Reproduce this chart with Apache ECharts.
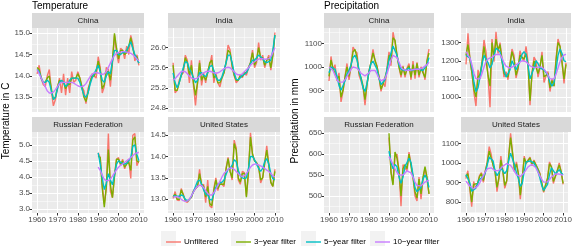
<!DOCTYPE html>
<html><head><meta charset="utf-8">
<script src="https://cdn.jsdelivr.net/npm/echarts@6/dist/echarts.min.js"></script>
<style>html,body{margin:0;padding:0;background:#fff}#c{width:575px;height:248px}</style>
</head><body><div id="c"></div>
<script>
// ---------- categories ----------
const yearsAll = [1960,1961,1962,1963,1964,1965,1966,1967,1968,1969,1970,1971,1972,1973,1974,1975,1976,1977,1978,1979,1980,1981,1982,1983,1984,1985,1986,1987,1988,1989,1990,1991,1992,1993,1994,1995,1996,1997,1998,1999,2000,2001,2002,2003,2004,2005,2006,2007,2008,2009,2010];
const yearsRus = [1990,1991,1992,1993,1994,1995,1996,1997,1998,1999,2000,2001,2002,2003,2004,2005,2006,2007,2008,2009,2010];
const seriesNames = ['Unfiltered','3\u2212year filter','5\u2212year filter','10\u2212year filter'];
const countries = ['China','India','Russian Federation','United States'];

// ---------- tick labels ----------
const xTicks = [1960,1970,1980,1990,2000,2010];
const xMinor = [1965,1975,1985,1995,2005];
const tempChinaTicks = [13.5,14.0,14.5,15.0], tempChinaMinor = [13.25,13.75,14.25,14.75];
const tempIndiaTicks = [24.8,25.2,25.6,26.0], tempIndiaMinor = [25.0,25.4,25.8,26.2];
const tempRusTicks = [3.0,3.5,4.0,4.5,5.0], tempRusMinor = [3.25,3.75,4.25,4.75,5.25];
const tempUSTicks = [13.0,13.5,14.0,14.5], tempUSMinor = [12.75,13.25,13.75,14.25];
const precChinaTicks = [900,1000,1100], precChinaMinor = [850,950,1050,1150];
const precIndiaTicks = [1000,1100,1200,1300], precIndiaMinor = [950,1050,1150,1250,1350];
const precRusTicks = [500,550,600,650], precRusMinor = [475,525,575,625];
const precUSTicks = [800,900,1000,1100], precUSMinor = [750,850,950,1050,1150];

// ---------- Temperature: China ----------
const tempChinaUnf = [14.05,14.25,13.95,13.8,13.75,14.0,14.15,13.65,13.3,13.45,
 13.7,13.95,13.6,14.05,13.55,13.95,13.6,14.1,13.85,13.9,
 14.1,13.95,13.75,13.65,13.35,13.7,13.85,14.05,14.0,13.95,
 14.45,14.2,13.6,13.75,14.2,14.15,13.75,14.3,14.95,14.55,
 14.3,14.65,14.6,14.4,14.7,14.5,14.95,14.75,14.35,14.5,14.25];
const tempChina3 = [14.2,14.15,13.95,13.85,13.85,13.95,14.0,13.7,13.45,13.5,
 13.75,13.9,13.85,13.85,13.7,13.8,13.8,13.95,13.95,13.95,
 14.05,13.95,13.75,13.5,13.4,13.6,13.85,14.0,14.0,14.1,
 14.35,14.15,13.7,13.8,14.1,14.1,13.9,14.35,15.0,14.65,
 14.4,14.6,14.6,14.5,14.55,14.7,14.9,14.65,14.45,14.45,14.3];
const tempChina5 = [14.15,14.1,13.95,13.85,13.85,13.9,13.85,13.65,13.45,13.5,
 13.7,13.85,13.9,13.85,13.75,13.8,13.9,13.95,13.95,13.95,
 13.95,13.85,13.7,13.55,13.5,13.6,13.8,13.95,14.05,14.15,
 14.25,14.1,13.9,13.85,14.0,14.1,14.05,14.35,14.6,14.6,
 14.5,14.5,14.55,14.55,14.6,14.7,14.8,14.65,14.5,14.4,14.3];
const tempChina10 = [14.15,14.05,13.95,13.85,13.75,13.65,13.6,13.6,13.62,13.68,
 13.75,13.82,13.85,13.85,13.85,13.85,13.85,13.85,13.83,13.8,
 13.77,13.75,13.75,13.77,13.82,13.9,13.98,14.04,14.07,14.08,
 14.07,14.05,14.04,14.05,14.1,14.2,14.3,14.4,14.48,14.53,
 14.55,14.56,14.57,14.57,14.56,14.55,14.53,14.5,14.45,14.4,14.35];

// ---------- Temperature: India ----------
const tempIndiaUnf = [25.7,25.1,25.15,25.35,25.45,25.5,25.85,25.75,25.3,25.75,
 25.25,24.85,25.3,25.75,25.25,25.5,25.3,25.55,25.65,25.85,
 25.3,25.5,25.3,25.22,25.4,25.5,25.7,26.05,25.95,25.6,
 25.45,25.3,25.35,25.45,25.4,25.5,25.45,25.6,25.7,25.95,
 25.6,25.7,26.1,25.75,25.85,25.6,25.75,25.85,25.55,25.85,26.3];
const tempIndia3 = [25.65,25.15,25.15,25.3,25.45,25.55,25.8,25.7,25.45,25.65,
 25.3,25.05,25.3,25.7,25.35,25.45,25.35,25.5,25.7,25.75,
 25.4,25.45,25.3,25.3,25.4,25.5,25.7,25.95,25.9,25.65,
 25.45,25.35,25.35,25.45,25.42,25.5,25.5,25.6,25.7,25.9,
 25.65,25.75,26.0,25.8,25.8,25.65,25.75,25.8,25.6,25.85,26.25];
const tempIndia5 = [25.5,25.3,25.2,25.3,25.45,25.6,25.72,25.7,25.58,25.5,
 25.4,25.3,25.35,25.5,25.5,25.45,25.42,25.5,25.62,25.65,
 25.55,25.42,25.35,25.35,25.42,25.55,25.7,25.85,25.85,25.7,
 25.5,25.37,25.36,25.4,25.45,25.47,25.5,25.58,25.68,25.75,
 25.75,25.8,25.85,25.82,25.78,25.72,25.7,25.72,25.75,25.95,26.25];
const tempIndia10 = [25.35,25.38,25.43,25.48,25.52,25.53,25.52,25.48,25.43,25.4,
 25.38,25.38,25.4,25.43,25.47,25.5,25.52,25.53,25.53,25.52,
 25.5,25.49,25.5,25.52,25.55,25.58,25.6,25.61,25.6,25.56,
 25.52,25.48,25.46,25.46,25.48,25.52,25.56,25.6,25.65,25.69,
 25.72,25.75,25.77,25.78,25.78,25.77,25.77,25.78,25.82,25.9,26.0];

// ---------- Temperature: Russian Federation ----------
const tempRusUnf = [4.75,4.6,3.75,3.15,3.65,5.35,3.55,3.35,4.05,4.55,4.6,4.35,4.55,4.25,4.45,4.55,3.95,5.3,5.35,4.35,4.5];
const tempRus3 = [4.65,4.6,3.65,3.05,3.7,4.85,3.75,3.35,4.0,4.55,4.55,4.4,4.5,4.3,4.4,4.45,4.2,5.15,5.25,4.5,4.45];
const tempRus5 = [4.75,4.4,3.95,3.6,3.8,4.1,3.9,3.75,4.05,4.4,4.5,4.45,4.42,4.4,4.42,4.5,4.6,4.95,5.0,4.7,4.5];
const tempRus10 = [4.3,4.2,4.05,3.92,3.88,3.88,3.93,4.02,4.12,4.22,4.3,4.36,4.4,4.45,4.5,4.55,4.6,4.66,4.72,4.75,4.76];

// ---------- Temperature: United States ----------
const tempUSUnf = [13.02,13.18,12.98,12.97,13.25,13.12,12.95,12.93,13.0,13.05,
 13.2,13.25,13.3,13.7,13.3,13.35,12.92,13.45,12.85,12.8,
 13.25,13.5,13.2,13.42,13.35,13.3,13.72,13.98,13.65,13.45,
 14.38,14.2,13.45,13.35,13.65,13.62,13.08,13.6,14.55,14.05,
 13.9,13.85,13.78,13.38,13.5,13.85,14.25,13.8,13.38,13.3,13.7];
const tempUS3 = [13.05,13.12,13.0,13.0,13.22,13.1,12.97,12.95,13.0,13.05,
 13.18,13.25,13.3,13.6,13.35,13.3,13.05,13.3,12.9,12.85,
 13.2,13.45,13.25,13.35,13.35,13.35,13.7,13.95,13.65,13.5,
 14.3,14.15,13.5,13.4,13.6,13.6,13.05,13.65,14.45,14.05,
 13.9,13.85,13.75,13.45,13.5,13.85,14.15,13.8,13.4,13.3,13.65];
const tempUS5 = [13.08,13.08,13.07,13.07,13.1,13.08,13.0,12.97,13.0,13.07,
 13.18,13.3,13.42,13.45,13.35,13.22,13.12,13.1,13.0,12.98,
 13.12,13.28,13.35,13.38,13.4,13.45,13.58,13.7,13.72,13.8,
 13.92,13.88,13.68,13.55,13.5,13.48,13.5,13.72,14.0,14.0,
 13.92,13.82,13.72,13.65,13.72,13.88,13.95,13.82,13.6,13.48,13.45];
const tempUS10 = [13.05,13.06,13.06,13.04,13.0,12.97,12.95,12.96,13.0,13.08,
 13.17,13.25,13.3,13.33,13.32,13.27,13.2,13.13,13.1,13.1,
 13.15,13.23,13.33,13.42,13.52,13.6,13.65,13.7,13.73,13.73,
 13.7,13.65,13.6,13.55,13.53,13.55,13.6,13.67,13.75,13.8,
 13.82,13.82,13.8,13.78,13.75,13.72,13.68,13.65,13.6,13.55,13.52];

// ---------- Precipitation: China ----------
const precChinaUnf = [940,1045,985,1010,940,975,850,895,960,1015,
 945,1000,1085,1070,1060,965,965,915,836,925,
 985,1020,1075,1025,1005,955,895,935,915,995,
 1065,1005,1149,1105,1050,1000,955,1005,955,995,
 1015,945,1025,950,1020,955,1000,985,945,1030,1076];
const precChina3 = [960,1030,995,995,950,960,870,900,955,1000,
 960,1005,1065,1075,1040,975,955,920,860,925,
 980,1020,1060,1030,1000,960,905,925,925,985,
 1050,1020,1125,1115,1050,1000,965,1000,965,990,
 1005,955,1010,965,1015,965,995,990,955,1025,1060];
const precChina5 = [975,1000,1005,990,960,920,900,905,940,970,
 985,1010,1040,1050,1030,990,950,910,895,930,
 980,1015,1025,1020,990,950,925,920,945,990,
 1030,1060,1090,1090,1050,1010,990,985,985,990,
 995,985,985,990,995,990,985,985,990,1010,1040];
const precChina10 = [1000,995,985,965,945,935,932,935,945,960,
 975,990,1000,1002,995,985,973,965,962,965,
 975,985,990,985,970,952,940,940,950,972,
 1000,1030,1050,1052,1040,1020,1000,990,985,985,
 985,987,990,990,990,990,993,997,1003,1010,1020];

// ---------- Precipitation: India ----------
const precIndiaUnf = [1180,1352,1200,1130,1020,950,1150,1100,1185,1315,
 1250,1120,943,1320,1195,1360,1240,1300,1210,1110,
 1140,1095,1185,1265,1230,1105,1150,1255,1215,1200,
 1280,1195,955,1130,1220,1200,1110,1160,1250,1080,
 1115,1140,1030,1100,1060,1210,1320,1280,1200,1075,1190];
const precIndia3 = [1230,1290,1210,1130,1040,1000,1110,1125,1190,1280,
 1270,1120,1060,1300,1220,1320,1260,1290,1200,1130,
 1130,1110,1180,1250,1210,1120,1160,1230,1220,1210,
 1240,1180,980,1130,1200,1190,1130,1170,1230,1110,
 1120,1130,1050,1090,1060,1200,1300,1280,1190,1100,1180];
const precIndia5 = [1230,1240,1215,1160,1080,1030,1050,1110,1180,1230,
 1230,1190,1160,1180,1230,1270,1275,1250,1200,1150,
 1110,1110,1150,1200,1190,1150,1150,1200,1235,1250,
 1235,1175,1100,1100,1160,1200,1185,1160,1150,1150,
 1145,1120,1080,1060,1080,1150,1230,1265,1240,1200,1195];
const precIndia10 = [1250,1240,1215,1175,1130,1100,1090,1100,1130,1165,
 1195,1210,1215,1220,1228,1235,1240,1235,1215,1190,
 1170,1160,1160,1165,1170,1175,1185,1195,1200,1200,
 1195,1185,1172,1165,1162,1162,1165,1168,1165,1155,
 1140,1120,1100,1093,1100,1125,1160,1195,1220,1232,1235];

// ---------- Precipitation: Russian Federation ----------
const precRusUnf = [640,560,530,595,600,560,475,575,575,560,605,603,545,500,488,545,492,540,565,540,505];
const precRus3 = [650,555,526,605,590,560,500,565,575,565,600,598,545,510,495,540,505,545,570,545,505];
const precRus5 = [607,580,565,575,570,545,530,545,570,580,590,580,550,520,510,510,520,540,550,540,520];
const precRus10 = [594,585,575,565,556,550,548,550,555,560,560,555,545,533,525,522,524,528,533,536,538];

// ---------- Precipitation: United States ----------
const precUSUnf = [920,960,870,776,905,870,890,935,950,900,
 960,1005,1083,1045,985,960,853,920,1035,960,
 870,905,1030,1151,1050,955,1005,945,814,925,
 1035,995,1015,1030,985,1015,1020,970,950,895,
 850,860,920,1005,980,895,930,960,1000,955,890];
const precUS3 = [930,945,880,800,890,880,895,930,945,910,
 955,1000,1060,1050,990,955,875,925,1015,960,
 885,910,1030,1130,1050,965,995,945,835,920,
 1025,1000,1010,1025,990,1010,1015,970,945,900,
 855,865,920,995,980,905,930,960,990,955,895];
const precUS5 = [940,935,900,855,850,870,895,915,925,930,
 950,990,1030,1040,1010,960,935,950,975,960,
 945,960,1010,1050,1040,990,950,920,880,895,
 955,1005,1010,1010,1005,1000,990,960,925,885,
 860,860,890,940,975,965,945,950,965,950,940];
const precUS10 = [907,895,882,872,868,870,880,895,915,935,
 955,970,978,975,968,960,958,962,972,983,
 992,996,995,987,973,955,940,932,930,937,
 950,966,980,990,993,988,975,955,935,915,
 902,898,903,915,928,938,943,945,943,940,937];

// ---------- build ----------
const colors = ['#F8766D','#7CAE00','#00BFC4','#C77CFF'];
const FONT = '"Liberation Sans", Arial, Helvetica, sans-serif';
const panels = [
  {strip:countries[0], x:yearsAll, d:[tempChinaUnf,tempChina3,tempChina5,tempChina10], t:tempChinaTicks, m:tempChinaMinor, lim:[13.155,15.124], dec:1, pos:[32,28,112,84], bottom:false},
  {strip:countries[1], x:yearsAll, d:[tempIndiaUnf,tempIndia3,tempIndia5,tempIndia10], t:tempIndiaTicks, m:tempIndiaMinor, lim:[24.72,26.39], dec:1, pos:[168,28,112,84], bottom:false},
  {strip:countries[2], x:yearsRus, d:[tempRusUnf,tempRus3,tempRus5,tempRus10], t:tempRusTicks, m:tempRusMinor, lim:[2.87,5.40], dec:1, pos:[32,132,112,81], bottom:true},
  {strip:countries[3], x:yearsAll, d:[tempUSUnf,tempUS3,tempUS5,tempUS10], t:tempUSTicks, m:tempUSMinor, lim:[12.68,14.57], dec:1, pos:[168,132,112,81], bottom:true},
  {strip:countries[0], x:yearsAll, d:[precChinaUnf,precChina3,precChina5,precChina10], t:precChinaTicks, m:precChinaMinor, lim:[807,1167], dec:0, pos:[324,28,110,84], bottom:false},
  {strip:countries[1], x:yearsAll, d:[precIndiaUnf,precIndia3,precIndia5,precIndia10], t:precIndiaTicks, m:precIndiaMinor, lim:[917,1381], dec:0, pos:[461,28,110,84], bottom:false},
  {strip:countries[2], x:yearsRus, d:[precRusUnf,precRus3,precRus5,precRus10], t:precRusTicks, m:precRusMinor, lim:[459,653], dec:0, pos:[324,132,110,81], bottom:true},
  {strip:countries[3], x:yearsAll, d:[precUSUnf,precUS3,precUS5,precUS10], t:precUSTicks, m:precUSMinor, lim:[744,1158], dec:0, pos:[461,132,110,81], bottom:true}
];

const grid=[], xAxis=[], yAxis=[], series=[], graphic=[];
const labelStyle = {fontSize:8, color:'#4D4D4D', fontFamily:FONT};
panels.forEach((p,i)=>{
  const [l,t,w,h] = p.pos;
  grid.push({left:l, top:t, width:w, height:h, show:true, backgroundColor:'#EBEBEB', borderWidth:0, containLabel:false});
  xAxis.push({type:'value', gridIndex:i, min:1957.5, max:2012.5,
    axisLine:{show:false},
    axisTick:{show:p.bottom, length:2.5, customValues:xTicks, lineStyle:{color:'#333333', width:1}},
    axisLabel:{show:p.bottom, customValues:xTicks, margin:2.5, ...labelStyle, formatter:v=>String(v)},
    splitLine:{show:true, lineStyle:{color:'#FFFFFF', width:1}}});
  xAxis.push({type:'value', gridIndex:i, min:1957.5, max:2012.5, position:'bottom',
    axisLine:{show:false}, axisTick:{show:false, customValues:xMinor}, axisLabel:{show:false, customValues:xMinor},
    splitLine:{show:true, lineStyle:{color:'#FFFFFF', width:0.5}}});
  yAxis.push({type:'value', gridIndex:i, min:p.lim[0], max:p.lim[1],
    axisLine:{show:false},
    axisTick:{show:true, length:2.5, customValues:p.t, lineStyle:{color:'#333333', width:1}},
    axisLabel:{show:true, customValues:p.t, margin:2, ...labelStyle, formatter:v=>v.toFixed(p.dec)},
    splitLine:{show:true, lineStyle:{color:'#FFFFFF', width:1}}});
  yAxis.push({type:'value', gridIndex:i, min:p.lim[0], max:p.lim[1], position:'left',
    axisLine:{show:false}, axisTick:{show:false, customValues:p.m}, axisLabel:{show:false, customValues:p.m},
    splitLine:{show:true, lineStyle:{color:'#FFFFFF', width:0.5}}});
  p.d.forEach((vals,k)=>{
    series.push({type:'line', name:seriesNames[k], xAxisIndex:2*i, yAxisIndex:2*i,
      data:p.x.map((yr,j)=>[yr, vals[j]]), showSymbol:false, symbol:'none', silent:true,
      lineStyle:{color:colors[k], width:1.4}, itemStyle:{color:colors[k]}, z:2+k});
  });
  graphic.push({type:'rect', shape:{x:l, y:t-15, width:w, height:15}, style:{fill:'#D9D9D9'}, silent:true});
  graphic.push({type:'text', x:l+w/2, y:t-7.5, style:{text:p.strip, font:'8px '+FONT, fill:'#1A1A1A', align:'center', verticalAlign:'middle', textAlign:'center', textVerticalAlign:'middle'}, silent:true});
});

graphic.push({type:'text', x:32, y:1, style:{text:'Temperature', font:'10px '+FONT, fill:'#000', align:'left', verticalAlign:'top'}});
graphic.push({type:'text', x:324, y:1, style:{text:'Precipitation', font:'10px '+FONT, fill:'#000', align:'left', verticalAlign:'top'}});
graphic.push({type:'text', x:6, y:121, rotation:Math.PI/2, style:{text:'Temperature in C', font:'10px '+FONT, fill:'#000', align:'center', verticalAlign:'middle'}});
graphic.push({type:'text', x:295, y:121, rotation:Math.PI/2, style:{text:'Precipitation in mm', font:'10px '+FONT, fill:'#000', align:'center', verticalAlign:'middle'}});

const legendX = [161,231,301,370];
const legend = seriesNames.map((n,k)=>({data:[{name:n, icon:'rect'}], left:legendX[k], top:233, itemWidth:15, itemHeight:1.4, itemGap:0,
  textStyle:{fontSize:8, color:'#000', fontFamily:FONT, padding:[0,0,0,-2]}, selectedMode:false}));
legendX.forEach(x=>graphic.push({type:'rect', shape:{x:x, y:231, width:15, height:15}, style:{fill:'#F2F2F2'}, silent:true, z:-1}));

const chart = echarts.init(document.getElementById('c'), null, {renderer:'canvas'});
chart.setOption({animation:false, backgroundColor:'#FFFFFF', grid, xAxis, yAxis, series, legend, graphic, tooltip:{show:false}});
</script></body></html>
